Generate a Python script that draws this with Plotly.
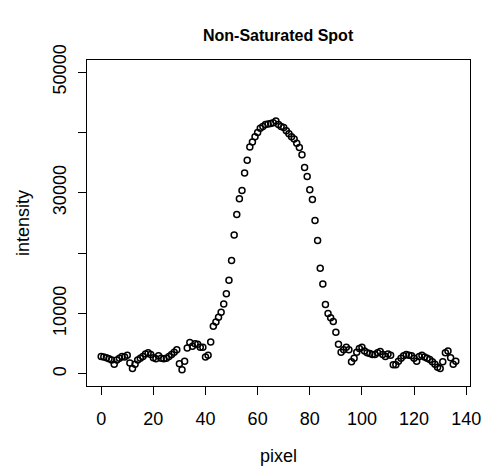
import plotly.graph_objects as go

pixel = list(range(0, 137))
intensity = [
    2900, 2800, 2700, 2500, 2300, 1600, 2300, 2600, 2900, 2800,   # 0-9
    3100, 1800, 900, 1600, 2300, 2600, 2900, 3300, 3500, 3200,    # 10-19
    2700, 2500, 3000, 2600, 2500, 2600, 2900, 3200, 3600, 4000,   # 20-29
    1700, 700, 2100, 4300, 5200, 4600, 5000, 4900, 4400, 4400,    # 30-39
    2800, 3100, 5300, 7900, 8600, 9400, 10200, 11600, 13300, 15500,  # 40-49
    18800, 23000, 26400, 29000, 30400, 33300, 35400, 37600, 38400, 39300,  # 50-59
    40000, 40700, 41000, 41300, 41400, 41500, 41600, 41900, 41300, 41000,  # 60-69
    40800, 40300, 39800, 39300, 38900, 38200, 37500, 36300, 34200, 32700,  # 70-79
    30500, 28900, 25400, 22100, 17500, 14900, 11500, 10000, 9300, 8700,    # 80-89
    6900, 4900, 3600, 4000, 4400, 4000, 2000, 2600, 3600, 4200,   # 90-99
    4400, 3800, 3500, 3400, 3200, 3200, 3500, 3700, 3200, 2900,   # 100-109
    3300, 3100, 1500, 1500, 2100, 2600, 3000, 3200, 3100, 3000,   # 110-119
    2600, 2100, 2900, 3100, 2800, 2600, 2400, 2000, 1600, 1100,   # 120-129
    900, 2000, 3500, 3800, 2700, 1600, 2100,                      # 130-136
]

x_ticks = [0, 20, 40, 60, 80, 100, 120, 140]
y_ticks = [0, 10000, 20000, 30000, 40000, 50000]
y_tick_text = ["0", "10000", "", "30000", "", "50000"]

title = "Non-Saturated Spot"
x_title = "pixel"
y_title = "intensity"

FONT = "Liberation Sans, Arial, sans-serif"

fig = go.Figure()
fig.add_trace(go.Scatter(
    x=pixel, y=intensity, mode="markers",
    marker=dict(symbol="circle-open", size=6, color="black",
                line=dict(width=1.5, color="black")),
    showlegend=False, hoverinfo="skip",
))

n = max(pixel) - min(pixel)
xr = [min(pixel) - 0.04 * n, max(pixel) + 0.04 * n]
yr = [0 - 0.04 * 50000, 50000 + 0.04 * 50000]

axis_common = dict(
    showgrid=False, zeroline=False, showline=True, mirror=True,
    linecolor="black", linewidth=1, ticks="outside", ticklen=8,
    tickwidth=1, tickcolor="black",
    tickfont=dict(family=FONT, size=18, color="black"),
)

fig.update_layout(
    width=493, height=473,
    margin=dict(l=87, r=18, t=60, b=87),
    paper_bgcolor="white", plot_bgcolor="white",
    xaxis=dict(range=xr, tickvals=x_ticks, ticktext=[str(v) for v in x_ticks],
               ticklabelstandoff=8, **axis_common),
    yaxis=dict(range=yr, tickvals=y_ticks, ticktext=y_tick_text,
               tickangle=-90, ticklabelstandoff=5, **axis_common),
    annotations=[
        dict(text="<b>" + title + "</b>", xref="paper", yref="paper",
             x=0.5, y=1, yshift=25, showarrow=False, yanchor="middle",
             font=dict(family=FONT, size=16, color="black")),
        dict(text=x_title, xref="paper", yref="paper", x=0.5, y=0,
             yshift=-70, showarrow=False, yanchor="middle",
             font=dict(family=FONT, size=18, color="black")),
        dict(text=y_title, xref="paper", yref="paper", x=0, y=0.5,
             xshift=-64, showarrow=False, xanchor="center", textangle=-90,
             font=dict(family=FONT, size=18, color="black")),
    ],
)

fig.write_html(
    "out.html",
    config={"displayModeBar": False, "staticPlot": True},
    post_script="document.body.style.margin='0px';"
                "document.body.style.padding='0px';"
                "document.body.style.overflow='hidden';",
)
